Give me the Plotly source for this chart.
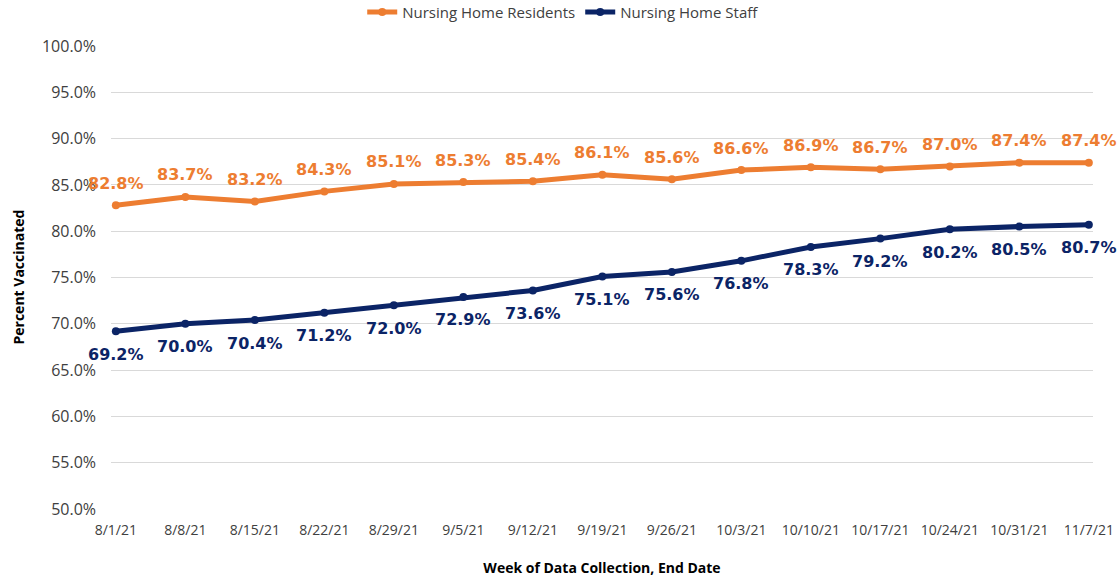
import plotly.graph_objects as go

weeks = ["8/1/21", "8/8/21", "8/15/21", "8/22/21", "8/29/21", "9/5/21", "9/12/21",
         "9/19/21", "9/26/21", "10/3/21", "10/10/21", "10/17/21", "10/24/21",
         "10/31/21", "11/7/21"]
residents = [82.8, 83.7, 83.2, 84.3, 85.1, 85.3, 85.4, 86.1, 85.6, 86.6, 86.9, 86.7, 87.0, 87.4, 87.4]
staff = [69.2, 70.0, 70.4, 71.2, 72.0, 72.9, 73.6, 75.1, 75.6, 76.8, 78.3, 79.2, 80.2, 80.5, 80.7]

ORANGE = "#ED7D31"
NAVY = "#0B2466"
FAM = "Open Sans, Roboto, sans-serif"
tick_font = dict(family=FAM, size=16, color="#404040")
legend_font = dict(family=FAM, size=15, color="#404040")
xtick_font = dict(family=FAM, size=14, color="#404040")
label_font = "DejaVu Sans, Verdana, sans-serif"

fig = go.Figure()
fig.add_trace(go.Scatter(x=weeks, y=residents, name="Nursing Home Residents", mode="lines+markers",
                         line=dict(color=ORANGE, width=5), marker=dict(color=ORANGE, size=8)))
fig.add_trace(go.Scatter(x=weeks, y=staff, name="Nursing Home Staff", mode="lines+markers",
                         line=dict(color=NAVY, width=5), marker=dict(color=NAVY, size=8)))

annotations = []
for w, v in zip(weeks, residents):
    annotations.append(dict(x=w, y=v, xref="x", yref="y", text=f"<b>{v:.1f}%</b>", showarrow=False,
                            yshift=22, font=dict(family=label_font, size=16, color=ORANGE)))
for w, v in zip(weeks, staff):
    annotations.append(dict(x=w, y=v, xref="x", yref="y", text=f"<b>{v:.1f}%</b>", showarrow=False,
                            yshift=-23, font=dict(family=label_font, size=16, color=NAVY)))
# y-axis title
annotations.append(dict(x=-0.0947, y=0.5, xref="paper", yref="paper", text="<b>Percent Vaccinated</b>",
                        textangle=-90, showarrow=False, xanchor="center", yanchor="middle",
                        font=dict(family=FAM, size=14, color="#000000")))

fig.update_layout(
    width=1120, height=577,
    margin=dict(l=111, r=27, t=46, b=68, autoexpand=False),
    paper_bgcolor="white", plot_bgcolor="white",
    annotations=annotations,
    showlegend=True,
    legend=dict(orientation="h", x=0.46, xanchor="center", y=1.073, yref="paper", yanchor="middle",
                font=legend_font, itemwidth=30, bgcolor="rgba(0,0,0,0)"),
    xaxis=dict(type="category", range=[-0.07, 14.06], showgrid=False, zeroline=False,
               showline=False, ticks="", tickfont=xtick_font, automargin=False,
               ticklabelstandoff=11,
               title=dict(text="<b>Week of Data Collection, End Date</b>", standoff=25,
                          font=dict(family=FAM, size=14, color="#000000"))),
    yaxis=dict(range=[50, 100], dtick=5, tickformat=".1f", ticksuffix="%", showgrid=True,
               gridcolor="#D9D9D9", gridwidth=1, zeroline=False, showline=False, ticks="",
               tickfont=tick_font, ticklabelstandoff=14, automargin=False),
)

fig.write_html("out.html", config={"displayModeBar": False},
               post_script="document.body.style.margin='0';")
